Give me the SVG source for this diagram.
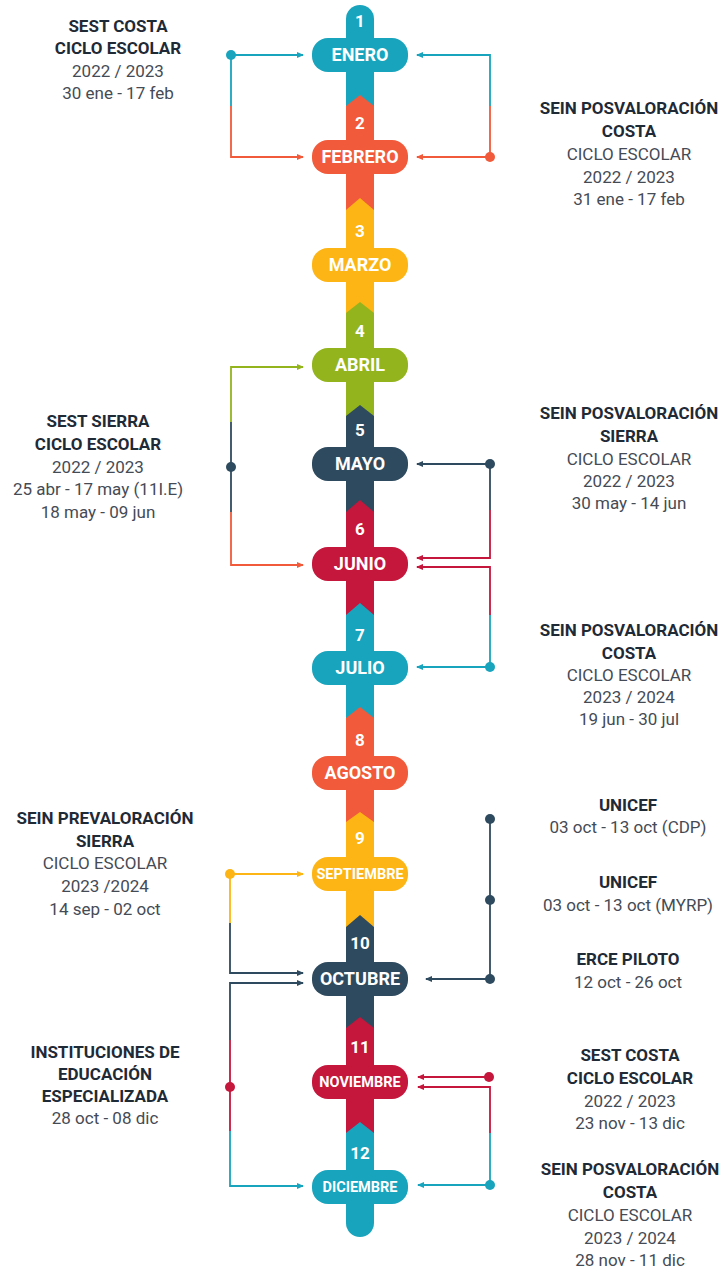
<svg xmlns="http://www.w3.org/2000/svg" width="725" height="1270" viewBox="0 0 725 1270">
<style>
.bg{fill:#ffffff}
.t{fill:#18a4bd}.r{fill:#f15a3a}.y{fill:#fdb515}.g{fill:#93b41d}.d{fill:#2e4a5e}.c{fill:#c5163c}
.ln{fill:none;stroke-width:1.8}
.lt{stroke:#18a4bd}.lr{stroke:#f15a3a}.ly{stroke:#fdb515}.lg{stroke:#93b41d}.ld{stroke:#2e4a5e}.lc{stroke:#c5163c}
.num{font-family:Roboto,"Liberation Sans",sans-serif;font-weight:700;font-size:17px;fill:#ffffff;text-anchor:middle}
.mon{font-family:Roboto,"Liberation Sans",sans-serif;font-weight:700;font-size:18px;fill:#ffffff;text-anchor:middle}
.mons{font-size:14.5px}
.h{font-family:Roboto,"Liberation Sans",sans-serif;font-weight:700;font-size:17px;fill:#1f2a37;text-anchor:middle}
.p{font-family:Roboto,"Liberation Sans",sans-serif;font-weight:400;font-size:17px;fill:#454b55;text-anchor:middle}
</style>
<defs>
<marker id="at" markerWidth="8" markerHeight="8" refX="6" refY="4" orient="auto" markerUnits="userSpaceOnUse"><path d="M0,1 L7,4 L0,7 Z" fill="#18a4bd"/></marker>
<marker id="ar" markerWidth="8" markerHeight="8" refX="6" refY="4" orient="auto" markerUnits="userSpaceOnUse"><path d="M0,1 L7,4 L0,7 Z" fill="#f15a3a"/></marker>
<marker id="ay" markerWidth="8" markerHeight="8" refX="6" refY="4" orient="auto" markerUnits="userSpaceOnUse"><path d="M0,1 L7,4 L0,7 Z" fill="#fdb515"/></marker>
<marker id="ag" markerWidth="8" markerHeight="8" refX="6" refY="4" orient="auto" markerUnits="userSpaceOnUse"><path d="M0,1 L7,4 L0,7 Z" fill="#93b41d"/></marker>
<marker id="ad" markerWidth="8" markerHeight="8" refX="6" refY="4" orient="auto" markerUnits="userSpaceOnUse"><path d="M0,1 L7,4 L0,7 Z" fill="#2e4a5e"/></marker>
<marker id="ac" markerWidth="8" markerHeight="8" refX="6" refY="4" orient="auto" markerUnits="userSpaceOnUse"><path d="M0,1 L7,4 L0,7 Z" fill="#c5163c"/></marker>
</defs>
<rect class="bg" x="0" y="0" width="725" height="1270"/>

<g id="connectors">
  <path class="ln lt" d="M231,55 H303" marker-end="url(#at)"/>
  <path class="ln lt" d="M231,55 V106"/>
  <path class="ln lr" d="M231,106 V157 H303" marker-end="url(#ar)"/>
  <circle class="t" cx="231" cy="55" r="5"/>
  <path class="ln lt" d="M490,106 V55 H417" marker-end="url(#at)"/>
  <path class="ln lr" d="M490,157 V106"/>
  <path class="ln lr" d="M490,157 H417" marker-end="url(#ar)"/>
  <circle class="r" cx="490" cy="157" r="5"/>
  <path class="ln lg" d="M231,422 V367 H303" marker-end="url(#ag)"/>
  <path class="ln ld" d="M231,422 V512"/>
  <path class="ln lr" d="M231,512 V565 H303" marker-end="url(#ar)"/>
  <circle class="d" cx="231" cy="467" r="5"/>
  <path class="ln ld" d="M490,464 H417" marker-end="url(#ad)"/>
  <path class="ln ld" d="M490,464 V510"/>
  <path class="ln lc" d="M490,510 V558 H417" marker-end="url(#ac)"/>
  <circle class="d" cx="490" cy="464" r="5"/>
  <path class="ln lt" d="M490,667 H417" marker-end="url(#at)"/>
  <path class="ln lt" d="M490,667 V615"/>
  <path class="ln lc" d="M490,615 V567 H417" marker-end="url(#ac)"/>
  <circle class="t" cx="490" cy="667" r="5"/>
  <path class="ln ly" d="M230,874 H303" marker-end="url(#ay)"/>
  <path class="ln ly" d="M230,874 V923"/>
  <path class="ln ld" d="M230,923 V973 H303" marker-end="url(#ad)"/>
  <circle class="y" cx="230" cy="874" r="5"/>
  <path class="ln ld" d="M230,1040 V983 H303" marker-end="url(#ad)"/>
  <path class="ln lc" d="M230,1040 V1131"/>
  <path class="ln lt" d="M230,1131 V1186 H303" marker-end="url(#at)"/>
  <circle class="c" cx="230" cy="1087" r="5"/>
  <path class="ln ld" d="M490,819 V979"/>
  <path class="ln ld" d="M490,979 H426" marker-end="url(#ad)"/>
  <circle class="d" cx="490" cy="819" r="5"/>
  <circle class="d" cx="490" cy="900" r="5"/>
  <circle class="d" cx="490" cy="979" r="5"/>
  <path class="ln lc" d="M489,1077 H418" marker-end="url(#ac)"/>
  <circle class="c" cx="489" cy="1077" r="5"/>
  <path class="ln lc" d="M490,1133 V1087 H418" marker-end="url(#ac)"/>
  <path class="ln lt" d="M490,1133 V1185"/>
  <path class="ln lt" d="M490,1185 H418" marker-end="url(#at)"/>
  <circle class="t" cx="490" cy="1185" r="5"/>
</g>

<g id="m01">
  <path class="t" d="M346,19 A14,14 0 0 1 374,19 V106 H346 Z"/>
  <rect class="t" x="312" y="38" width="96" height="34" rx="16"/>
  <text class="num" x="360" y="27">1</text>
  <text class="mon" x="360" y="61">ENERO</text>
</g>
<g id="m02">
  <polygon class="r" points="346,106 360,95 374,106 374,210 346,210"/>
  <rect class="r" x="312" y="140" width="96" height="34" rx="16"/>
  <text class="num" x="360" y="129">2</text>
  <text class="mon" x="360" y="163">FEBRERO</text>
</g>
<g id="m03">
  <polygon class="y" points="346,210 360,198 374,210 374,313 346,313"/>
  <rect class="y" x="312" y="248" width="96" height="34" rx="16"/>
  <text class="num" x="360" y="237">3</text>
  <text class="mon" x="360" y="271">MARZO</text>
</g>
<g id="m04">
  <polygon class="g" points="346,313 360,302 374,313 374,416 346,416"/>
  <rect class="g" x="312" y="348" width="96" height="34" rx="16"/>
  <text class="num" x="360" y="337">4</text>
  <text class="mon" x="360" y="371">ABRIL</text>
</g>
<g id="m05">
  <polygon class="d" points="346,416 360,405 374,416 374,512 346,512"/>
  <rect class="d" x="312" y="447" width="96" height="34" rx="16"/>
  <text class="num" x="360" y="436">5</text>
  <text class="mon" x="360" y="470">MAYO</text>
</g>
<g id="m06">
  <polygon class="c" points="346,512 360,500 374,512 374,615 346,615"/>
  <rect class="c" x="312" y="547" width="96" height="34" rx="16"/>
  <text class="num" x="360" y="535">6</text>
  <text class="mon" x="360" y="570">JUNIO</text>
</g>
<g id="m07">
  <polygon class="t" points="346,615 360,603 374,615 374,718 346,718"/>
  <rect class="t" x="312" y="651" width="96" height="34" rx="16"/>
  <text class="num" x="360" y="641">7</text>
  <text class="mon" x="360" y="674">JULIO</text>
</g>
<g id="m08">
  <polygon class="r" points="346,718 360,707 374,718 374,822 346,822"/>
  <rect class="r" x="312" y="756" width="96" height="34" rx="16"/>
  <text class="num" x="360" y="746">8</text>
  <text class="mon" x="360" y="779">AGOSTO</text>
</g>
<g id="m09">
  <polygon class="y" points="346,822 360,812 374,822 374,927 346,927"/>
  <rect class="y" x="312" y="857" width="96" height="34" rx="16"/>
  <text class="num" x="360" y="844">9</text>
  <text class="mon mons" x="360" y="879">SEPTIEMBRE</text>
</g>
<g id="m10">
  <polygon class="d" points="346,927 360,915 374,927 374,1028 346,1028"/>
  <rect class="d" x="312" y="962" width="96" height="34" rx="16"/>
  <text class="num" x="360" y="949">10</text>
  <text class="mon" x="360" y="985">OCTUBRE</text>
</g>
<g id="m11">
  <polygon class="c" points="346,1028 360,1017 374,1028 374,1133 346,1133"/>
  <rect class="c" x="312" y="1065" width="96" height="34" rx="16"/>
  <text class="num" x="360" y="1053">11</text>
  <text class="mon mons" x="360" y="1087">NOVIEMBRE</text>
</g>
<g id="m12">
  <path class="t" d="M346,1133 L360,1122 L374,1133 V1223 A14,14 0 0 1 346,1223 Z"/>
  <rect class="t" x="312" y="1170" width="96" height="34" rx="16"/>
  <text class="num" x="360" y="1159">12</text>
  <text class="mon mons" x="360" y="1192">DICIEMBRE</text>
</g>

<g id="n-sest-costa-1">
  <text class="h" x="118" y="32">SEST COSTA</text>
  <text class="h" x="118" y="54">CICLO ESCOLAR</text>
  <text class="p" x="118" y="77">2022 / 2023</text>
  <text class="p" x="118" y="99">30 ene - 17 feb</text>
</g>
<g id="n-sein-pos-costa-1">
  <text class="h" x="629" y="114">SEIN POSVALORACIÓN</text>
  <text class="h" x="629" y="137">COSTA</text>
  <text class="p" x="629" y="160">CICLO ESCOLAR</text>
  <text class="p" x="629" y="183">2022 / 2023</text>
  <text class="p" x="629" y="205">31 ene - 17 feb</text>
</g>
<g id="n-sest-sierra">
  <text class="h" x="98" y="427">SEST SIERRA</text>
  <text class="h" x="98" y="450">CICLO ESCOLAR</text>
  <text class="p" x="98" y="473">2022 / 2023</text>
  <text class="p" x="98" y="495">25 abr - 17 may (11I.E)</text>
  <text class="p" x="98" y="518">18 may - 09 jun</text>
</g>
<g id="n-sein-pos-sierra">
  <text class="h" x="629" y="419">SEIN POSVALORACIÓN</text>
  <text class="h" x="629" y="442">SIERRA</text>
  <text class="p" x="629" y="465">CICLO ESCOLAR</text>
  <text class="p" x="629" y="487">2022 / 2023</text>
  <text class="p" x="629" y="509">30 may - 14 jun</text>
</g>
<g id="n-sein-pos-costa-2">
  <text class="h" x="629" y="636">SEIN POSVALORACIÓN</text>
  <text class="h" x="629" y="659">COSTA</text>
  <text class="p" x="629" y="681">CICLO ESCOLAR</text>
  <text class="p" x="629" y="703">2023 / 2024</text>
  <text class="p" x="629" y="725">19 jun - 30 jul</text>
</g>
<g id="n-sein-pre-sierra">
  <text class="h" x="105" y="824">SEIN PREVALORACIÓN</text>
  <text class="h" x="105" y="847">SIERRA</text>
  <text class="p" x="105" y="869">CICLO ESCOLAR</text>
  <text class="p" x="105" y="892">2023 /2024</text>
  <text class="p" x="105" y="915">14 sep - 02 oct</text>
</g>
<g id="n-unicef-cdp">
  <text class="h" x="628" y="811">UNICEF</text>
  <text class="p" x="628" y="833">03 oct - 13 oct (CDP)</text>
</g>
<g id="n-unicef-myrp">
  <text class="h" x="628" y="888">UNICEF</text>
  <text class="p" x="628" y="911">03 oct - 13 oct (MYRP)</text>
</g>
<g id="n-erce">
  <text class="h" x="628" y="965">ERCE PILOTO</text>
  <text class="p" x="628" y="988">12 oct - 26 oct</text>
</g>
<g id="n-instituciones">
  <text class="h" x="105" y="1058">INSTITUCIONES DE</text>
  <text class="h" x="105" y="1080">EDUCACIÓN</text>
  <text class="h" x="105" y="1102">ESPECIALIZADA</text>
  <text class="p" x="105" y="1124">28 oct - 08 dic</text>
</g>
<g id="n-sest-costa-2">
  <text class="h" x="630" y="1061">SEST COSTA</text>
  <text class="h" x="630" y="1084">CICLO ESCOLAR</text>
  <text class="p" x="630" y="1107">2022 / 2023</text>
  <text class="p" x="630" y="1129">23 nov - 13 dic</text>
</g>
<g id="n-sein-pos-costa-3">
  <text class="h" x="630" y="1175">SEIN POSVALORACIÓN</text>
  <text class="h" x="630" y="1198">COSTA</text>
  <text class="p" x="630" y="1221">CICLO ESCOLAR</text>
  <text class="p" x="630" y="1244">2023 / 2024</text>
  <text class="p" x="630" y="1266">28 nov - 11 dic</text>
</g>
</svg>
